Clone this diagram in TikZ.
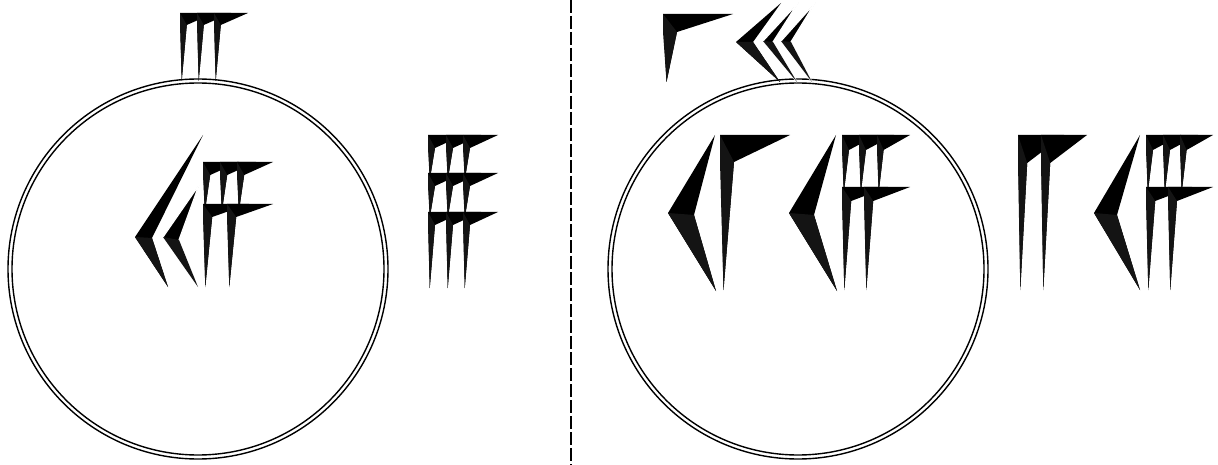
\documentclass[tikz,border=0pt]{standalone}
\usetikzlibrary{calc}
\tikzset{
  wedgefill/.style={fill=black},
  facet/.style={fill=black!92},
  ring/.style={draw=black,line width=1.4pt},
  divider/.style={draw=black,line width=2.4pt,dash pattern=on 13pt off 3pt},
}
% vertical wedge: x y w h L
\newcommand\wv[5]{%
  \fill[wedgefill] (#1,#2) -- (#1+#3,#2) -- (#1+0.2*#3,#2+#4) -- (#1+0.05*#3,#2+#5) -- cycle;
  \fill[facet] (#1,#2) -- (#1+0.2*#3,#2+#4) -- (#1+0.05*#3,#2+#5) -- (#1,#2+#4) -- cycle;}
% angled wedge: [opts] Lx Ly Tx Ty Ix Iy Bx By
\newcommand\wa[9][]{%
  \path[wedgefill,#1] (#2,#3) -- (#4,#5) -- (#6,#7) -- (#8,#9) -- cycle;
  \fill[facet] (#2,#3) -- (#6,#7) -- (#8,#9) -- cycle;}
\begin{document}
\begin{tikzpicture}[x=1pt,y=-1pt]
\useasboundingbox (0,0) rectangle (1218,465);
% ---------- left circle ----------
\draw[ring] (198,269) circle[radius=190];
\draw[ring] (198,269) circle[radius=186];
% three on top
\wv{180}{13}{34}{12}{68}
\wv{197}{13}{34}{12}{68}
\wv{214}{13}{34}{12}{68}
% 25 inside
\wa{135}{237}{203}{135}{152}{238}{168}{287}
\wa[draw=white,line width=1.2pt]{163}{237}{199}{185}{179}{240}{198}{287}
\wv{203}{162}{36}{13}{50}
\wv{220}{162}{36}{13}{50}
\wv{237}{162}{36}{13}{50}
\wv{203}{204}{46}{13}{83}
\wv{227}{204}{46}{13}{83}
% nine at right
\foreach \yy/\ll in {135/45,173/45,212/76}{
  \wv{428}{\yy}{35}{13}{\ll}
  \wv{446}{\yy}{35}{13}{\ll}
  \wv{463}{\yy}{35}{13}{\ll}
}
% ---------- divider ----------
\draw[divider] (571,0) -- (571,465);
% ---------- right circle ----------
\draw[ring] (798,269) circle[radius=190];
\draw[ring] (798,269) circle[radius=186];
% top: 1 and 30
\wv{663}{14}{70}{18}{68}
\wa{736}{42}{781}{3}{753}{42}{780}{82}
\wa[draw=white,line width=1.2pt]{763}{41}{798}{3}{773}{42}{797}{82}
\wa[draw=white,line width=1.2pt]{781}{41}{815}{3}{791}{42}{812}{82}
% inside: 11 and 15
\wa{668}{213}{715}{135}{694}{215}{716}{291}
\wv{720}{135}{70}{27}{155}
\wa{789}{213}{836}{135}{814}{215}{837}{291}
\wv{842}{135}{35}{15}{58}
\wv{859}{135}{35}{15}{58}
\wv{877}{135}{33}{15}{58}
\wv{842}{187}{46}{14}{103}
\wv{864}{187}{46}{14}{103}
% right: 2 and 15
\wv{1018}{135}{46}{28}{155}
\wv{1041}{135}{46}{28}{155}
\wa{1094}{213}{1140}{135}{1117}{215}{1140}{290}
\wv{1146}{135}{35}{15}{58}
\wv{1163}{135}{35}{15}{58}
\wv{1180}{135}{33}{15}{58}
\wv{1146}{187}{46}{14}{103}
\wv{1168}{187}{45}{14}{103}
\end{tikzpicture}
\end{document}
